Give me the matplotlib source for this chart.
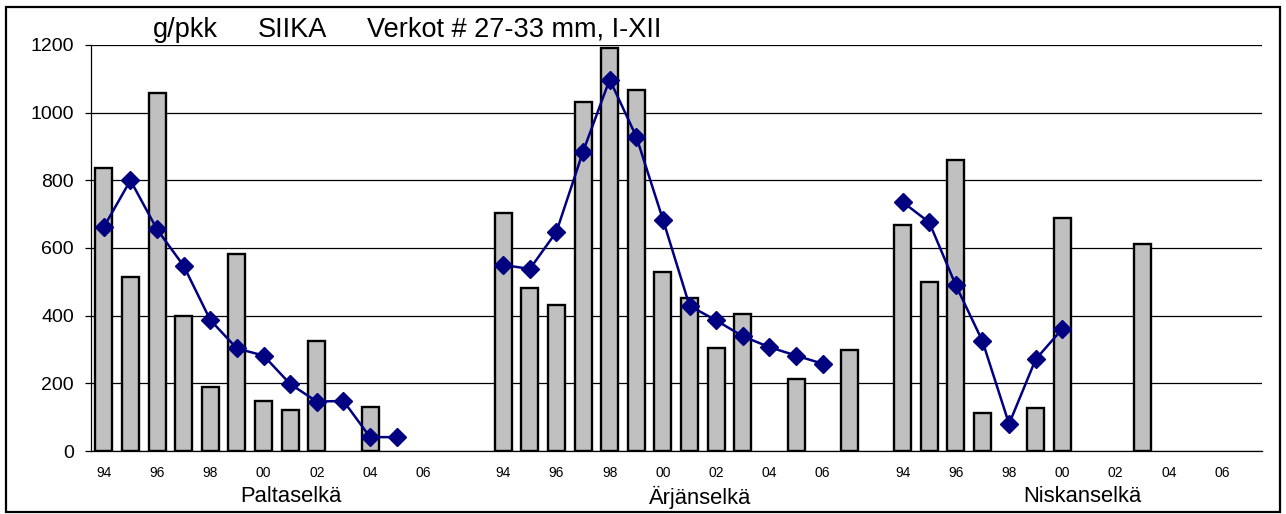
import numpy as np
import matplotlib.pyplot as plt
import matplotlib.transforms as mtransforms
from matplotlib.patches import Rectangle

plt.rcParams['font.family'] = ['Liberation Sans', 'DejaVu Sans']

nan = np.nan

# years per lake, 94..07 (07 only unlabeled)
years = ["94", "", "96", "", "98", "", "00", "", "02", "", "04", "", "06", ""]
lakes = ["Paltaselkä", "Ärjänselkä", "Niskanselkä"]

palta_bars = [835, 514, 1057, 400, 188, 581, 148, 121, 324, nan, 130, nan, nan, nan]
palta_line = [662, 800, 655, 547, 387, 303, 282, 198, 146, 148, 41, 41, nan, nan]

arjan_bars = [704, 481, 432, 1031, 1191, 1068, 530, 452, 305, 405, nan, 213, nan, 300]
arjan_line = [550, 538, 648, 885, 1098, 929, 684, 429, 386, 339, 307, 282, 258, nan]

niskan_bars = [668, 500, 861, 113, nan, 126, 688, nan, nan, 612, nan, nan, nan, nan]
niskan_line = [736, 676, 490, 325, 80, 271, 361, nan, nan, nan, nan, nan, nan, nan]

# one blank category between lakes
bars = palta_bars + [nan] + arjan_bars + [nan] + niskan_bars
line = palta_line + [nan] + arjan_line + [nan] + niskan_line
labels = years + [""] + years + [""] + years
x = np.arange(len(bars))

W, H = 1286, 514
fig = plt.figure(figsize=(W / 100, H / 100), dpi=100)
ax = fig.add_axes([90.5 / W, 1 - 451 / H, (1262 - 90.5) / W, (451 - 45) / H])

ax.bar(x, bars, width=0.64, color='#C0C0C0', edgecolor='black', linewidth=1.7, zorder=2)
ax.plot(x, line, color='#000080', linewidth=1.8, marker='D', markersize=9, zorder=3)

ax.set_xlim(-0.5, len(bars) - 0.5)
ax.set_ylim(0, 1200)
ax.set_yticks(range(0, 1201, 200))
ax.yaxis.grid(True, color='black', linewidth=0.9, zorder=0)
ax.set_axisbelow(True)
ax.tick_params(axis='y', labelsize=14, length=4, width=0.9, pad=8)

xt = [i for i, l in enumerate(labels) if l]
ax.set_xticks(xt)
ax.set_xticklabels([labels[i] for i in xt], fontsize=10)
ax.tick_params(axis='x', length=0, pad=11)

for s in ['top', 'right']:
    ax.spines[s].set_visible(False)
ax.spines['left'].set_linewidth(0.9)
ax.spines['bottom'].set_linewidth(0.9)

# lake names under the axis
trans = mtransforms.blended_transform_factory(ax.transData, fig.transFigure)
for pos, name in zip([7.04, 22.4, 36.75], lakes):
    ax.text(pos, 1 - 497 / H, name, transform=trans, ha='center', va='center', fontsize=15.8)

# title pieces
for px, txt in [(153, "g/pkk"), (258, "SIIKA"), (367, "Verkot # 27-33 mm, I-XII")]:
    fig.text(px / W, 1 - 37 / H, txt, ha='left', va='baseline', fontsize=19.5)

# chart border
fig.patches.append(Rectangle((6 / W, 1 - 512 / H), (1280 - 6) / W, (512 - 7) / H,
                             transform=fig.transFigure, fill=False,
                             edgecolor='black', linewidth=1.6))

fig.savefig('out.png', dpi=100)
